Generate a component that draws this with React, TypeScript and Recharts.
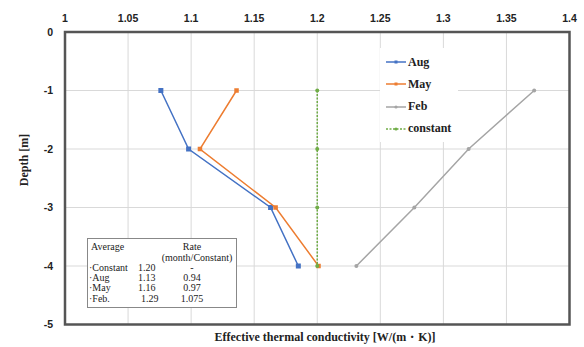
import React from 'react';
import { ScatterChart, Scatter, XAxis, YAxis, CartesianGrid, ReferenceArea } from 'recharts';

const depths = [-1, -2, -3, -4];
const augValues = [1.076, 1.098, 1.163, 1.185];
const mayValues = [1.136, 1.107, 1.167, 1.201];
const febValues = [1.372, 1.32, 1.277, 1.231];
const constantValues = [1.2, 1.2, 1.2, 1.2];

const xTicks = [1, 1.05, 1.1, 1.15, 1.2, 1.25, 1.3, 1.35, 1.4];
const yTicks = [0, -1, -2, -3, -4, -5];

const tableLabels = ['·Constant', '·Aug', '·May', '·Feb.'];
const tableAverages = ['1.20', '1.13', '1.16', '1.29'];
const tableRates = ['-', '0.94', '0.97', '1.075'];

const toPoints = (vals: number[]) => vals.map((v, i) => ({ x: v, y: depths[i] }));

const series = [
  { name: 'Aug', data: toPoints(augValues), color: '#4472C4', marker: 'square', size: 5, dash: undefined as string | undefined },
  { name: 'May', data: toPoints(mayValues), color: '#ED7D31', marker: 'square', size: 4.5, dash: undefined as string | undefined },
  { name: 'Feb', data: toPoints(febValues), color: '#A5A5A5', marker: 'circle', size: 4, dash: undefined as string | undefined },
  { name: 'constant', data: toPoints(constantValues), color: '#70AD47', marker: 'circle', size: 4, dash: '2 1.5' },
];

const makeShape = (color: string, marker: string, size: number) => (props: any) => {
  const { cx, cy } = props;
  if (cx == null || cy == null) return <g />;
  if (marker === 'square') {
    return <rect x={cx - size / 2} y={cy - size / 2} width={size} height={size} fill={color} />;
  }
  return <circle cx={cx} cy={cy} r={size / 2} fill={color} />;
};

const serif = '"Liberation Serif", "Times New Roman", serif';

export default function App() {
  return (
    <div style={{ position: 'absolute', left: 0, top: 0, width: 584, height: 347, background: '#fff' }}>
      <ScatterChart width={584} height={347} margin={{ top: 0, right: 14.5, bottom: 22.5, left: 0 }}>
        <CartesianGrid stroke="#d9d9d9" strokeWidth={1} />
        <XAxis
          type="number"
          dataKey="x"
          orientation="top"
          domain={[1, 1.4]}
          ticks={xTicks}
          height={32}
          axisLine={false}
          tickLine={false}
          tickSize={0}
          tickMargin={10}
          allowDataOverflow
          tick={{ fill: '#222', fontSize: 10.5, fontWeight: 700, fontFamily: '"Liberation Sans", Arial, sans-serif' }}
        />
        <YAxis
          type="number"
          dataKey="y"
          domain={[-5, 0]}
          ticks={yTicks}
          width={65}
          axisLine={false}
          tickLine={false}
          tickSize={0}
          tickMargin={12}
          allowDataOverflow
          tick={{ fill: '#222', fontSize: 10.5, fontWeight: 700, fontFamily: '"Liberation Sans", Arial, sans-serif' }}
        />
        <ReferenceArea x1={1} x2={1.4} y1={-5} y2={0} fill="none" stroke="#555" strokeWidth={2.5} />
        {series.map((s) => (
          <Scatter
            key={s.name}
            name={s.name}
            data={s.data}
            fill={s.color}
            line={{ stroke: s.color, strokeWidth: 1.5, strokeDasharray: s.dash }}
            lineType="joint"
            shape={makeShape(s.color, s.marker, s.size)}
            isAnimationActive={false}
          />
        ))}
      </ScatterChart>

      {/* Legend */}
      <div style={{ position: 'absolute', left: 380, top: 48, width: 78, height: 94, background: '#fff' }}>
        {series.map((s, i) => (
          <div key={s.name} style={{ position: 'absolute', left: 6, top: 6 + i * 22.3, height: 16, display: 'flex', alignItems: 'center' }}>
            <svg width={20} height={8} style={{ display: 'block' }}>
              <line x1={0} y1={4} x2={20} y2={4} stroke={s.color} strokeWidth={1.5} strokeDasharray={s.dash} />
              {s.marker === 'square' ? (
                <rect x={8.5} y={2.5} width={3} height={3} fill={s.color} />
              ) : (
                <circle cx={10} cy={4} r={1.6} fill={s.color} />
              )}
            </svg>
            <span style={{ marginLeft: 2, fontFamily: serif, fontWeight: 700, fontSize: 12, color: '#222' }}>{s.name}</span>
          </div>
        ))}
      </div>

      {/* Table */}
      <div style={{ position: 'absolute', left: 87, top: 238, width: 148, height: 68, border: '1px solid #888', background: '#fff', fontFamily: serif, fontSize: 10, color: '#222', lineHeight: '10px', whiteSpace: 'nowrap' }}>
        <div style={{ position: 'absolute', left: 3, top: 3 }}>Average</div>
        <div style={{ position: 'absolute', left: 74, top: 3, width: 60, textAlign: 'center' }}>Rate</div>
        <div style={{ position: 'absolute', left: 69, top: 14, width: 80, textAlign: 'center' }}>(month/Constant)</div>
        {tableLabels.map((lab, i) => (
          <React.Fragment key={lab}>
            <div style={{ position: 'absolute', left: 1, top: 24 + i * 10.2 }}>{lab}</div>
            <div style={{ position: 'absolute', left: 50 + (i === 3 ? 3 : 0), top: 24 + i * 10.2 }}>{tableAverages[i]}</div>
            <div style={{ position: 'absolute', left: 76, top: 24 + i * 10.2, width: 56, textAlign: 'center' }}>{tableRates[i]}</div>
          </React.Fragment>
        ))}
      </div>

      {/* Axis titles */}
      <div style={{ position: 'absolute', left: 24, top: 160, transform: 'translate(-50%, -50%) rotate(-90deg)', whiteSpace: 'nowrap', fontFamily: serif, fontWeight: 700, fontSize: 12, color: '#222' }}>
        Depth [m]
      </div>
      <div style={{ position: 'absolute', left: 325, top: 337, transform: 'translate(-50%, -50%)', whiteSpace: 'nowrap', fontFamily: serif, fontWeight: 700, fontSize: 12, color: '#222' }}>
        Effective thermal conductivity [W/(m・K)]
      </div>
    </div>
  );
}
